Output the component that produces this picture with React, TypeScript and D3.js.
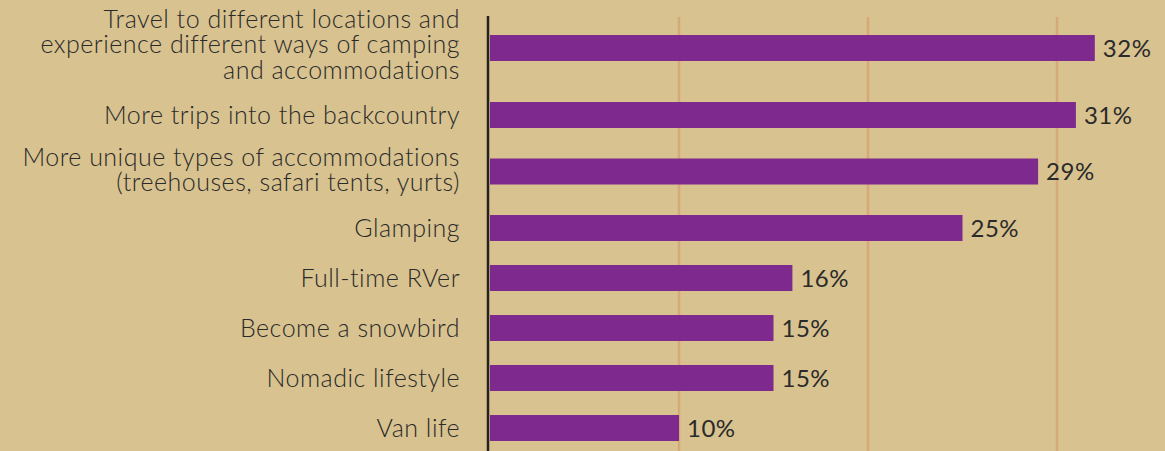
import React from "react";
import * as d3 from "d3";

const categories: string[][] = [
  ["Travel to different locations and", "experience different ways of camping", "and accommodations"],
  ["More trips into the backcountry"],
  ["More unique types of accommodations", "(treehouses, safari tents, yurts)"],
  ["Glamping"],
  ["Full-time RVer"],
  ["Become a snowbird"],
  ["Nomadic lifestyle"],
  ["Van life"],
];
const values: number[] = [32, 31, 29, 25, 16, 15, 15, 10];
const gridTicks: number[] = [10, 20, 30];

const W = 1165;
const H = 451;
const BG = "#D8C28F";
const BAR = "#7E298E";
const GRID = "#D5A978";
const TEXT = "#2A2A2A";

export default function App() {
  const x = d3.scaleLinear().domain([0, 10]).range([490, 679]);
  const extra = [0, 13, 34];
  const slots = categories.map((c) => 50 + extra[c.length - 1]);
  const tops: number[] = [];
  let acc = 6;
  slots.forEach((s) => {
    tops.push(acc);
    acc += s;
  });
  const centers = tops.map((t, i) => t + slots[i] / 2);
  const barH = 26;
  const lineH = 25.5;
  const labelFont = "Lato, 'Open Sans', sans-serif";
  const valueFont = "Lato, 'Noto Sans', sans-serif";

  return (
    <svg
      width={W}
      height={H}
      style={{ position: "absolute", left: 0, top: 0, display: "block" }}
    >
      <rect x={0} y={0} width={W} height={H} fill={BG} />
      {gridTicks.map((t) => (
        <line key={t} x1={x(t)} x2={x(t)} y1={17} y2={H} stroke={GRID} strokeWidth={2.5} />
      ))}
      {values.map((v, i) => {
        const n = categories[i].length;
        return (
          <g key={i}>
            <rect x={x(0)} y={centers[i] - barH / 2} width={x(v) - x(0)} height={barH} fill={BAR} />
            <text
              x={x(v) + 8}
              y={centers[i]}
              dy="0.36em"
              fontFamily={valueFont}
              fontSize={24}
              letterSpacing={0.5}
              fill={TEXT}
            >
              {v}%
            </text>
            {categories[i].map((line, j) => (
              <text
                key={j}
                x={460}
                y={centers[i] + (j - (n - 1) / 2) * lineH - 2 * (n - 1)}
                dy="0.36em"
                textAnchor="end"
                fontFamily={labelFont}
                fontWeight={300}
                fontSize={25}
                letterSpacing={0.5}
                fill={TEXT}
              >
                {line}
              </text>
            ))}
          </g>
        );
      })}
      <line x1={488} x2={488} y1={16} y2={H} stroke="#222" strokeWidth={2.5} />
    </svg>
  );
}
